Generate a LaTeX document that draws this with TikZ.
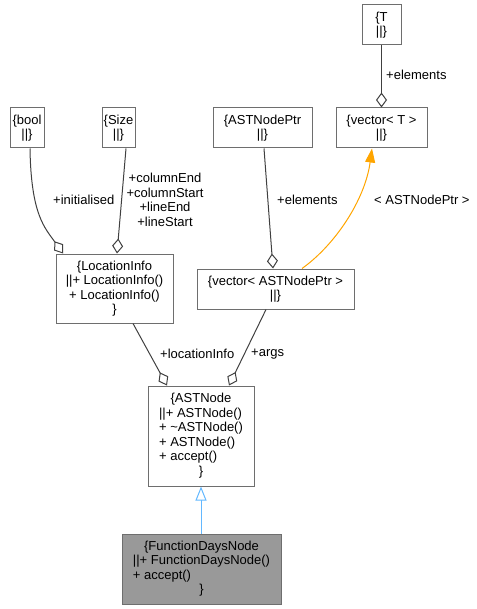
\documentclass[tikz,border=0pt]{standalone}
\usepackage{fontspec}
\setmainfont{Liberation Sans}
\usetikzlibrary{arrows.meta}
\definecolor{edgegray}{HTML}{404040}
\definecolor{boxgray}{HTML}{6E6E6E}
\definecolor{inhblue}{HTML}{63B8FF}
\definecolor{tmplorange}{HTML}{FFA500}
\newcommand{\ctrline}[1]{\multicolumn{1}{@{}c@{}}{#1}}
\tikzset{
  x=1pt, y=-1pt,
  txt/.style={font=\fontsize{13}{14.5}\selectfont, inner sep=0pt},
  rec/.style={txt, draw=boxgray, line width=1pt, fill=white, align=center},
  agg/.style={draw=edgegray, line width=1pt, -{Diamond[open, length=15pt, width=11pt, line width=1pt]}},
  tmpl/.style={draw=tmplorange, line width=1pt, -{Triangle[length=14pt, width=10pt]}},
  inh/.style={draw=inhblue, line width=1pt, -{Triangle[open, length=14pt, width=11pt, line width=1pt]}},
  lbl/.style={txt, anchor=west},
}
\begin{document}
\begin{tikzpicture}
\useasboundingbox (0,0) rectangle (476,609);
% boxes
\node[rec, minimum width=39pt, minimum height=40pt] (T) at (381.5,25) {\{T\\||\}};
\node[rec, minimum width=91pt, minimum height=40pt] (vecT) at (381.5,128) {\{vector< T >\\||\}};
\node[rec, minimum width=99pt, minimum height=40pt] (ptr) at (262.5,128) {\{ASTNodePtr\\||\}};
\node[rec, minimum width=157pt, minimum height=40pt] (vecA) at (275.5,289) {\{vector< ASTNodePtr >\\||\}};
\node[rec, minimum width=34pt, minimum height=40pt] (bool) at (27,128) {\{bool\\||\}};
\node[rec, minimum width=33pt, minimum height=40pt] (size) at (118.5,128) {\{Size\\||\}};
\node[rec, minimum width=117pt, minimum height=69pt] (loc) at (114.5,288.5) {\{LocationInfo\\||+ LocationInfo()\\+ LocationInfo()\\\}};
\node[rec, minimum width=106pt, minimum height=100pt] (ast) at (201,436)
  {\begin{tabular}{@{}l@{}}\ctrline{\{ASTNode}\\||+ ASTNode()\\+ \textasciitilde ASTNode()\\+ ASTNode()\\+ accept()\\\ctrline{\}}\end{tabular}};
\node[rec, fill=black!40, minimum width=159pt, minimum height=70pt] (fdn) at (201.5,569)
  {\begin{tabular}{@{}l@{}}\ctrline{\{FunctionDaysNode}\\||+ FunctionDaysNode()\\+ accept()\\\ctrline{\}}\end{tabular}};
% edges
\draw[agg] (T.south) -- (vecT.north);
\node[lbl] (lT) at (386,75) {+elements};
\draw[agg] ([xshift=1.5pt]ptr.south) -- ([xshift=-2.5pt]vecA.north);
\node[lbl] (lptr) at (277,200) {+elements};
\draw[tmpl] ([xshift=26.5pt]vecA.north) .. controls (335,245) and (365,200) .. ([xshift=-9.5pt]vecT.south);
\node[lbl] (ltmpl) at (374,200) {< ASTNodePtr >};
\draw[agg] ([xshift=3pt]bool.south) .. controls (31,215) and (45,228) .. ([xshift=-51.5pt]loc.north);
\node[lbl] (lbool) at (53,200) {+initialised};
\draw[agg] ([xshift=7.5pt]size.south) -- ([xshift=2.5pt]loc.north);
\node[txt, align=center] (lsize) at (165,200) {+columnEnd\\+columnStart\\+lineEnd\\+lineStart};
\draw[agg] ([xshift=18.5pt]loc.south) -- ([xshift=-34pt]ast.north);
\node[lbl] (lloc) at (160,354) {+locationInfo};
\draw[agg] ([xshift=-9.5pt]vecA.south) -- ([xshift=28pt]ast.north);
\node[lbl] (largs) at (251,354) {+args};
\draw[inh] ([xshift=-0.5pt]fdn.north) -- (ast.south);
\end{tikzpicture}
\end{document}
